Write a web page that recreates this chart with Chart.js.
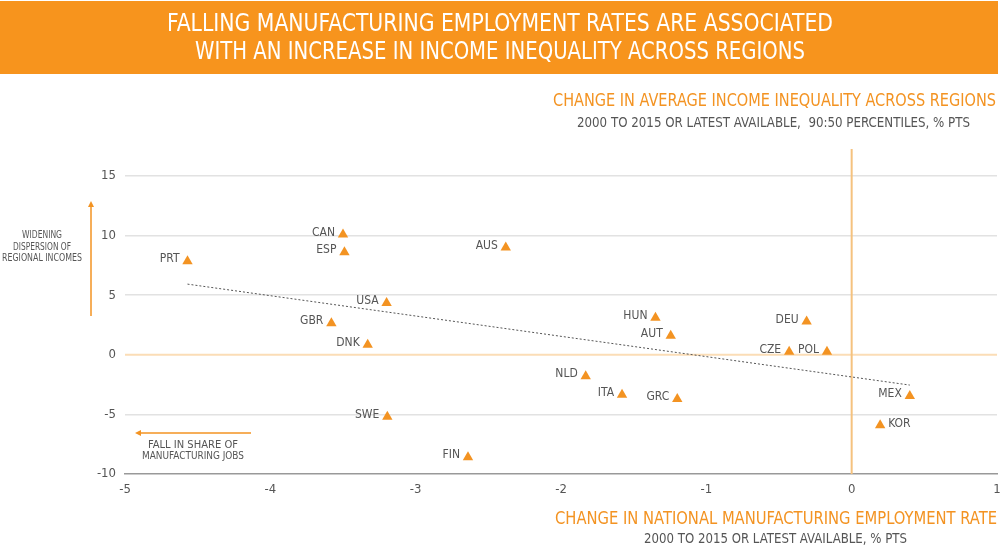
<!DOCTYPE html>
<html>
<head>
<meta charset="utf-8">
<script src="https://cdn.jsdelivr.net/npm/chart.js@4/dist/chart.umd.min.js"></script>
<style>
  html, body { margin: 0; padding: 0; background: #ffffff; }
  #wrap { position: relative; width: 1000px; height: 547px; overflow: hidden; font-family: "Liberation Sans Narrow", "DejaVu Sans Condensed", sans-serif; }
  #banner { position: absolute; left: 0; top: 1px; width: 998px; height: 73px; background: #F7941D; }
  .t { position: absolute; white-space: nowrap; transform-origin: 0 0; line-height: 1; }
  canvas { position: absolute; left: 0; top: 0; }
</style>
</head>
<body>
<div id="wrap">
  <div id="banner"></div>
  <canvas id="c" width="1000" height="547"></canvas>
  <div class="t" id="t1" style="color:#fff;font-size:24px;">FALLING MANUFACTURING EMPLOYMENT RATES ARE ASSOCIATED</div>
  <div class="t" id="t2" style="color:#fff;font-size:24px;">WITH AN INCREASE IN INCOME INEQUALITY ACROSS REGIONS</div>
  <div class="t" id="yt" style="color:#F39322;font-size:17px;">CHANGE IN AVERAGE INCOME INEQUALITY ACROSS REGIONS</div>
  <div class="t" id="ys" style="color:#555;font-size:14px;">2000 TO 2015 OR LATEST AVAILABLE,&nbsp; 90:50 PERCENTILES, % PTS</div>
  <div class="t" id="xt" style="color:#F39322;font-size:18px;">CHANGE IN NATIONAL MANUFACTURING EMPLOYMENT RATE</div>
  <div class="t" id="xs" style="color:#555;font-size:14px;">2000 TO 2015 OR LATEST AVAILABLE, % PTS</div>
  <div class="t" id="a1" style="color:#555;font-size:10px;">WIDENING</div>
  <div class="t" id="a2" style="color:#555;font-size:10px;">DISPERSION OF</div>
  <div class="t" id="a3" style="color:#555;font-size:10px;">REGIONAL INCOMES</div>
  <div class="t" id="b1" style="color:#555;font-size:10px;">FALL IN SHARE OF</div>
  <div class="t" id="b2" style="color:#555;font-size:10px;">MANUFACTURING JOBS</div>
</div>
<script>
// ---- data ----
const countries = ["PRT","CAN","ESP","AUS","USA","GBR","DNK","HUN","AUT","NLD","ITA","GRC","SWE","FIN","DEU","CZE","POL","MEX","KOR"];
const manufChange = [-4.57,-3.50,-3.49,-2.38,-3.20,-3.58,-3.33,-1.35,-1.245,-1.83,-1.58,-1.20,-3.195,-2.64,-0.31,-0.43,-0.17,0.40,0.196];
const inequalityChange = [7.85,10.1,8.6,9.0,4.35,2.65,0.85,3.1,1.6,-1.8,-3.35,-3.7,-5.2,-8.6,2.8,0.25,0.25,-3.45,-5.9];
const trendX = [-4.57, 0.40];
const trendY = [5.93, -2.54];
const xTicks = [-5,-4,-3,-2,-1,0,1];
const yTicks = [-10,-5,0,5,10,15];
const rightLabelCountries = ["KOR"];

// ---- text placement (fit to target widths) ----
function place(id, left, right, top) {
  const el = document.getElementById(id);
  const w = el.getBoundingClientRect().width;
  const s = (right - left) / w;
  el.style.left = left + "px";
  el.style.top = top + "px";
  el.style.transform = "scaleX(" + s + ")";
}
function placeCenter(id, cx, top, width) {
  place(id, cx - width/2, cx + width/2, top);
}
place("t1", 167, 833, 11);
place("t2", 195, 805, 39);
place("yt", 553, 996, 92);
place("ys", 577, 970, 115);
place("xt", 555, 997, 509);
place("xs", 644, 907, 531);
placeCenter("a1", 42, 230, 40);
placeCenter("a2", 42, 242, 58);
placeCenter("a3", 42, 253, 80);
placeCenter("b1", 193, 440, 90);
placeCenter("b2", 193, 451, 102);

// ---- plugins ----
const refLines = {
  id: 'refLines',
  beforeDatasetsDraw(chart) {
    const {ctx, chartArea, scales} = chart;
    const y0 = scales.y.getPixelForValue(0);
    const x0 = scales.x.getPixelForValue(0);
    ctx.save();
    ctx.strokeStyle = '#FBDDB6';
    ctx.lineWidth = 2;
    ctx.beginPath(); ctx.moveTo(chartArea.left, y0); ctx.lineTo(chartArea.right, y0); ctx.stroke();
    ctx.strokeStyle = '#F5C27E';
    ctx.lineWidth = 2;
    ctx.beginPath(); ctx.moveTo(x0, chartArea.top - 27); ctx.lineTo(x0, chartArea.bottom); ctx.stroke();
    ctx.restore();
  }
};
const arrows = {
  id: 'arrows',
  afterDraw(chart) {
    const ctx = chart.ctx;
    ctx.save();
    ctx.strokeStyle = '#F39322';
    ctx.fillStyle = '#F39322';
    ctx.lineWidth = 1.5;
    ctx.beginPath(); ctx.moveTo(91, 316); ctx.lineTo(91, 205); ctx.stroke();
    ctx.beginPath(); ctx.moveTo(91, 201); ctx.lineTo(88, 207); ctx.lineTo(94, 207); ctx.closePath(); ctx.fill();
    ctx.beginPath(); ctx.moveTo(251, 433); ctx.lineTo(139, 433); ctx.stroke();
    ctx.beginPath(); ctx.moveTo(135, 433); ctx.lineTo(141, 430); ctx.lineTo(141, 436); ctx.closePath(); ctx.fill();
    ctx.restore();
  }
};
const pointLabels = {
  id: 'pointLabels',
  afterDatasetsDraw(chart) {
    const ctx = chart.ctx;
    const meta = chart.getDatasetMeta(0);
    ctx.save();
    ctx.font = '12px "Liberation Sans Narrow", "DejaVu Sans Condensed", sans-serif';
    ctx.fillStyle = '#555555';
    ctx.textBaseline = 'middle';
    meta.data.forEach((pt, i) => {
      const name = countries[i];
      if (rightLabelCountries.includes(name)) {
        ctx.textAlign = 'left';
        ctx.fillText(name, pt.x + 8, pt.y - 1);
      } else {
        ctx.textAlign = 'right';
        ctx.fillText(name, pt.x - 8, pt.y - 2);
      }
    });
    ctx.restore();
  }
};

const pts = manufChange.map((x, i) => ({x: x, y: inequalityChange[i]}));
const trend = trendX.map((x, i) => ({x: x, y: trendY[i]}));
const tickFont = {family: '"Liberation Sans Narrow", "DejaVu Sans Condensed", sans-serif', size: 13};

new Chart(document.getElementById('c'), {
  type: 'scatter',
  data: {
    datasets: [
      {
        data: pts,
        pointStyle: 'triangle',
        pointRadius: 6,
        pointHoverRadius: 6,
        backgroundColor: '#F39322',
        borderColor: '#F39322',
        borderWidth: 0,
        order: 1
      },
      {
        type: 'line',
        data: trend,
        borderColor: '#555555',
        borderWidth: 1,
        borderDash: [2, 2],
        pointRadius: 0,
        fill: false,
        order: 2
      }
    ]
  },
  options: {
    responsive: false,
    animation: false,
    devicePixelRatio: 1,
    layout: { autoPadding: false, padding: { left: 85, right: 3, top: 176, bottom: 43 } },
    plugins: { legend: { display: false }, tooltip: { enabled: false } },
    scales: {
      x: {
        type: 'linear',
        min: xTicks[0], max: xTicks[xTicks.length - 1],
        afterBuildTicks(scale) { scale.ticks = xTicks.map(v => ({value: v})); },
        afterFit(scale) { scale.height = 30; scale.paddingLeft = 0; scale.paddingRight = 0; },
        grid: { display: false, drawTicks: false },
        border: { display: true, color: '#999999', width: 1.5 },
        ticks: { color: '#555555', font: tickFont, padding: 8 }
      },
      y: {
        type: 'linear',
        min: yTicks[0], max: yTicks[yTicks.length - 1],
        afterBuildTicks(scale) { scale.ticks = yTicks.map(v => ({value: v})); },
        afterFit(scale) { scale.width = 40; scale.paddingTop = 0; scale.paddingBottom = 0; },
        grid: {
          drawTicks: false,
          color: ctx => (ctx.tick && (ctx.tick.value === 0 || ctx.tick.value === -10)) ? 'rgba(0,0,0,0)' : '#e2e2e2',
          lineWidth: 1.5
        },
        border: { display: false },
        ticks: { color: '#555555', font: tickFont, padding: 9 }
      }
    }
  },
  plugins: [refLines, pointLabels, arrows]
});
</script>
</body>
</html>
